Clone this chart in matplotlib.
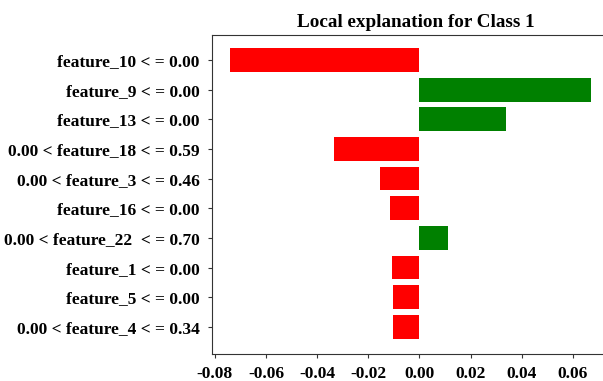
import matplotlib.pyplot as plt

# feature conditions and their weights, top to bottom
labels = [
    'feature_10 < = 0.00',
    'feature_9 < = 0.00',
    'feature_13 < = 0.00',
    '0.00 < feature_18 < = 0.59',
    '0.00 < feature_3 < = 0.46',
    'feature_16 < = 0.00',
    '0.00 < feature_22  < = 0.70',
    'feature_1 < = 0.00',
    'feature_5 < = 0.00',
    '0.00 < feature_4 < = 0.34',
]
weights = [-0.074, 0.067, 0.034, -0.0335, -0.0153, -0.0117, 0.0113, -0.0106, -0.0102, -0.0102]
xticks = [-0.08, -0.06, -0.04, -0.02, 0.00, 0.02, 0.04, 0.06]

plt.rcParams['font.family'] = ['Liberation Serif', 'DejaVu Serif']
plt.rcParams['font.weight'] = 'bold'

fig = plt.figure(figsize=(6.03, 3.81), dpi=100)
ax = fig.add_axes([0.352, 0.071, 0.649, 0.837])

pos = list(range(len(labels)))
colors = ['green' if w > 0 else 'red' for w in weights]
ax.barh(pos, weights, height=0.8, color=colors)

ax.set_yticks(pos)
ax.set_yticklabels(labels, fontsize=12.5, fontweight='bold')
ax.set_ylim(len(labels) - 1 + 0.91, -0.84)
ax.set_xlim(-0.081, 0.072)
ax.set_xticks(xticks)
ax.set_xticklabels([f'{t:.2f}' for t in xticks], fontsize=12.5, fontweight='bold')
ax.tick_params(length=3, width=0.8, color='#333333', pad=6)
ax.set_title('Local explanation for Class 1', fontsize=13.8, fontweight='bold', pad=6, x=0.52)

for s in ['left', 'bottom', 'top']:
    ax.spines[s].set_color('#333333')
ax.spines['right'].set_visible(False)

plt.savefig('out.png', dpi=100)
